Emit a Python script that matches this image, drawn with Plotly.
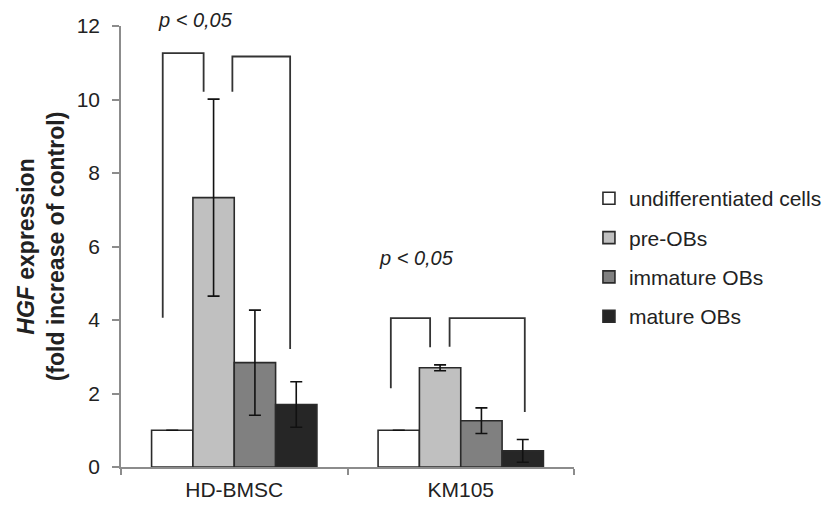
import plotly.graph_objects as go

categories = ["HD-BMSC", "KM105"]
series_names = ["undifferentiated cells", "pre-OBs", "immature OBs", "mature OBs"]
values = {
    "undifferentiated cells": [1.0, 1.0],
    "pre-OBs": [7.33, 2.70],
    "immature OBs": [2.84, 1.26],
    "mature OBs": [1.70, 0.44],
}
errors = {
    "undifferentiated cells": [0, 0],
    "pre-OBs": [2.68, 0.08],
    "immature OBs": [1.43, 0.35],
    "mature OBs": [0.62, 0.31],
}
colors = ["#ffffff", "#c0c0c0", "#808080", "#262626"]
y_range = [0, 12]

# significance brackets: (category index, left bar, right bar, left leg bottom, top, right leg bottom)
brackets = [
    (0, 0, 1, 4.06, 11.26, 10.21),
    (0, 1, 3, 10.21, 11.17, 3.21),
    (1, 0, 1, 2.14, 4.05, 3.26),
    (1, 1, 3, 3.27, 4.05, 1.50),
]
bracket_nudge = [(-0.042, -0.044), (0.083, -0.027), (-0.035, -0.044), (0.042, 0.009)]
p_labels = [(0, "p < 0,05", 12.15), (1, "p < 0,05", 5.7)]
p_nudge = [-0.173, -0.195]

FONT = "Liberation Sans, Arial, sans-serif"
bargap = 0.27
nbars = len(series_names)
bw = (1 - bargap) / nbars

def bar_center(cat, i):
    return cat - (1 - bargap) / 2 + bw * (i + 0.5)

fig = go.Figure()
for i, name in enumerate(series_names):
    fig.add_trace(go.Bar(
        x=categories, y=values[name], name=name,
        marker=dict(color=colors[i], line=dict(color="#2a2a2a", width=1.6)),
        error_y=dict(type="data", array=errors[name], visible=True,
                     color="#111111", thickness=1.6, width=6),
        legendgroup=name,
    ))

shapes = []
for (c, a, b, y1, ytop, y2), (na, nb) in zip(brackets, bracket_nudge):
    xa = bar_center(c, a) + na
    xb = bar_center(c, b) + nb
    shapes.append(dict(
        type="path", xref="x", yref="y",
        path=f"M {xa},{y1} L {xa},{ytop} L {xb},{ytop} L {xb},{y2}",
        line=dict(color="#333333", width=1.8),
    ))

annotations = []
for (c, txt, yv), nx in zip(p_labels, p_nudge):
    annotations.append(dict(
        x=c + nx, y=(yv - y_range[0]) / (y_range[1] - y_range[0]),
        xref="x", yref="paper", text=f"<i>{txt}</i>",
        showarrow=False, font=dict(family=FONT, size=20, color="#222222"),
        xanchor="center", yanchor="middle",
    ))

fig.update_layout(
    width=830, height=506,
    margin=dict(l=121, r=256, t=26, b=39, autoexpand=False),
    paper_bgcolor="white", plot_bgcolor="white",
    barmode="group", bargap=bargap, bargroupgap=0,
    font=dict(family=FONT, size=20, color="#222222"),
    shapes=shapes, annotations=annotations,
    legend=dict(
        x=1.033, xanchor="left", y=0.655, yanchor="top",
        font=dict(family=FONT, size=21, color="#222222"),
        itemwidth=30, tracegroupgap=9, traceorder="grouped",
        bgcolor="rgba(0,0,0,0)",
    ),
    yaxis=dict(
        range=y_range, dtick=2, showgrid=False, zeroline=False,
        showline=True, linecolor="#8c8c8c", linewidth=1.5,
        ticks="outside", ticklen=7, tickcolor="#8c8c8c", tickwidth=1.5,
        ticklabelstandoff=8, automargin=False,
        tickfont=dict(family=FONT, size=21, color="#222222"),
        title=dict(
            text="<b><i>HGF</i> expression</b><br><b>(fold increase of control)</b>",
            font=dict(family=FONT, size=23, color="#222222"), standoff=6,
        ),
    ),
    xaxis=dict(
        showgrid=False, showline=True, linecolor="#8c8c8c", linewidth=1.5,
        ticks="outside", ticklen=6, tickcolor="#8c8c8c", tickwidth=1.5,
        tickson="boundaries", ticklabelstandoff=3, automargin=False,
        tickfont=dict(family=FONT, size=21, color="#222222"),
    ),
    showlegend=True,
)

fig.write_html("out.html")
